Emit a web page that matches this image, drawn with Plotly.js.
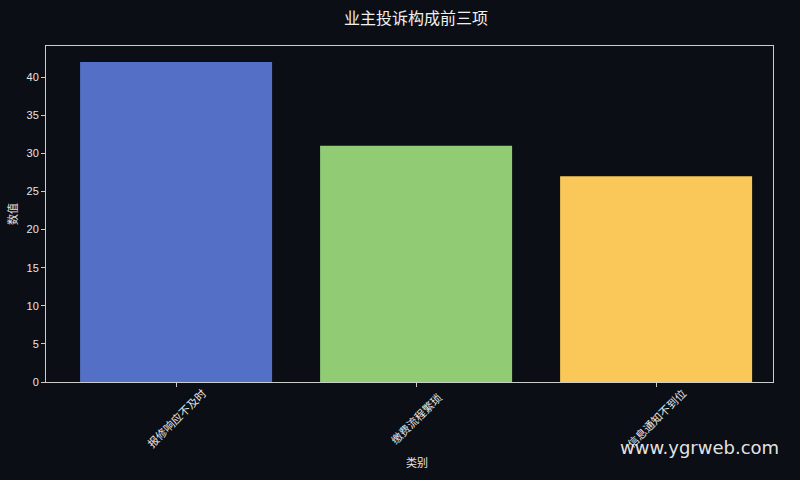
<!DOCTYPE html>
<html><head><meta charset="utf-8">
<script src="https://cdn.plot.ly/plotly-3.0.1.min.js"></script>
<style>html,body{margin:0;padding:0;background:#0b0e14;}#chart{width:800px;height:480px;}</style>
</head><body><div id="chart"></div>
<script>
var categories = ["报修响应不及时", "缴费流程繁琐", "信息通知不到位"];
var values = [42, 31, 27];
var barColors = ["#5470c6", "#91cc75", "#fac858"];
var titleText = "业主投诉构成前三项";
var xTitle = "类别";
var yTitle = "数值";
var watermark = "www.ygrweb.com";

var cjk = "Noto Sans CJK SC, sans-serif";
var positions = categories.map(function (c, i) { return i; });
var trace = {
  type: "bar",
  x: positions,
  y: values,
  width: 0.8,
  marker: {color: barColors, line: {width: 0}},
  hoverinfo: "none"
};
var annotations = categories.map(function (c, i) {
  return {
    text: c, xref: "x", yref: "paper", x: positions[i], y: -0.108,
    xanchor: "center", yanchor: "middle", textangle: -45, showarrow: false,
    font: {family: cjk, size: 11, color: "#e6e6e6"}
  };
});
annotations.push({
  text: xTitle, xref: "paper", yref: "paper", x: 0.51, y: -0.238,
  xanchor: "center", yanchor: "middle", showarrow: false,
  font: {family: cjk, size: 11, color: "#e6e6e6"}
});
annotations.push({
  text: watermark, xref: "paper", yref: "paper", x: 1.011, y: -0.195,
  xanchor: "right", yanchor: "middle", showarrow: false,
  font: {family: "DejaVu Sans, sans-serif", size: 18, color: "rgba(255,255,255,0.9)"}
});
var layout = {
  width: 800, height: 480,
  paper_bgcolor: "#0b0e14",
  plot_bgcolor: "#0b0e14",
  margin: {l: 46, r: 27, t: 46, b: 98},
  showlegend: false,
  font: {family: "Liberation Sans, sans-serif", color: "#e6e6e6", size: 11},
  title: {text: titleText, x: 0.52, xanchor: "center", y: 0.962, yanchor: "middle",
          font: {family: cjk, size: 16, color: "#f0f0f0"}},
  xaxis: {
    range: [-0.542, 2.487],
    tickmode: "array", tickvals: positions, showticklabels: false,
    ticks: "outside", ticklen: 4, tickcolor: "#cccccc",
    showline: true, linecolor: "#cccccc", linewidth: 1, mirror: true,
    showgrid: false, zeroline: false
  },
  yaxis: {
    range: [0, 44.1],
    tickmode: "linear", tick0: 0, dtick: 5,
    ticks: "outside", ticklen: 4, tickcolor: "#cccccc",
    showline: true, linecolor: "#cccccc", linewidth: 1, mirror: true,
    showgrid: false, zeroline: false,
    tickfont: {family: "Liberation Sans, sans-serif", size: 11, color: "#e6e6e6"},
    title: {text: yTitle, standoff: 6, font: {family: cjk, size: 11, color: "#e6e6e6"}}
  },
  annotations: annotations
};
Plotly.newPlot("chart", [trace], layout, {displayModeBar: false, staticPlot: true});
</script></body></html>
